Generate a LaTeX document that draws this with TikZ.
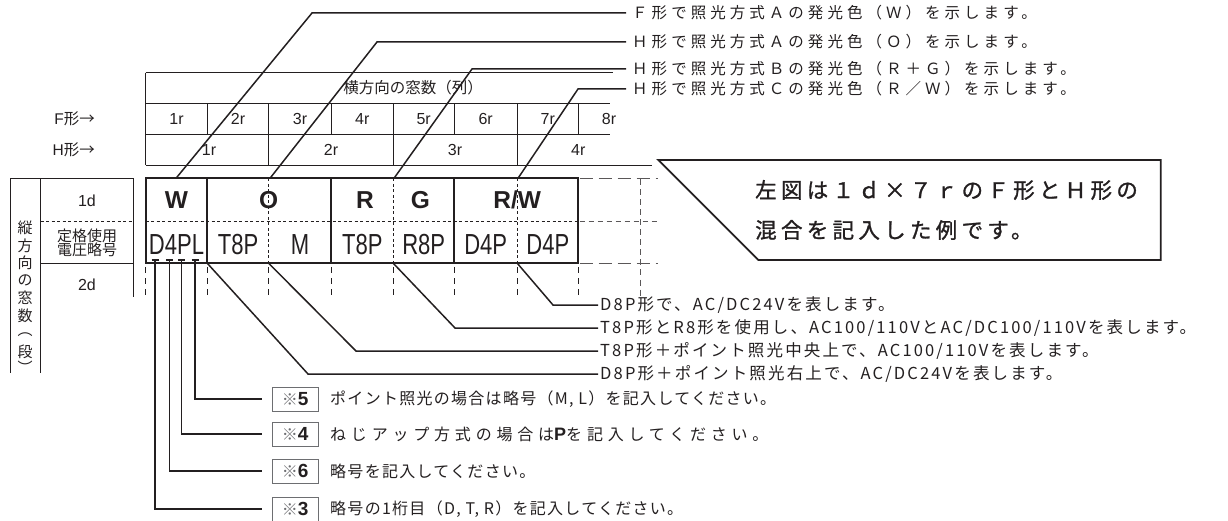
\documentclass[tikz,border=0pt]{standalone}
\usepackage{fontspec}
\setmainfont{Noto Sans CJK JP}
\newfontfamily\hv{Liberation Sans}
\newfontfamily\hvc[FakeStretch=0.76]{Liberation Sans}
\newfontfamily\jpsp[LetterSpace=26]{Noto Sans CJK JP}
\newfontfamily\jpbt[LetterSpace=13]{Noto Sans CJK JP}
\newfontfamily\jpnt[LetterSpace=8]{Noto Sans CJK JP}
\newfontfamily\jpwide[LetterSpace=30]{Noto Sans CJK JP}
\newfontfamily\jpcall[LetterSpace=20,FakeBold=1.2]{Noto Sans CJK JP}
\newcommand\fsz[1]{\fontsize{#1}{#1}\selectfont}
\usetikzlibrary{calc}
\definecolor{ink}{HTML}{231F20}
\definecolor{boxgray}{HTML}{6D6E71}
\begin{document}
\begin{tikzpicture}[x=1pt,y=-1pt,
  ln/.style={draw=ink, line width=0.8pt},
  lnk/.style={draw=ink, line width=1.8pt},
  lead/.style={draw=ink, line width=1.5pt},
  fdash/.style={draw=ink, line width=0.9pt, dash pattern=on 3pt off 2.5pt},
  ldash/.style={draw=ink!75, line width=1pt, dash pattern=on 13pt off 6pt},
  mdash/.style={draw=ink, line width=0.9pt, dash pattern=on 6pt off 5pt},
  txt/.style={inner sep=0pt, text=ink},
  toplbl/.style={txt, anchor=west, font=\jpsp\fsz{15.5}},
  botlbl/.style={txt, anchor=west, font=\jpbt\fsz{16.5}},
  notelbl/.style={txt, anchor=west, font=\jpnt\fsz{16}},
  hdrnum/.style={txt, font=\hv\fsz{16}},
  big/.style={txt, font=\hv\bfseries\fsz{24.5}},
  code/.style={txt, font=\hvc\fsz{29}},
  notebox/.style={draw=boxgray, line width=0.9pt, minimum width=46pt, minimum height=24pt, inner sep=0pt, anchor=west, text=ink},
  vchar/.style={txt, font=\fsz{15}}
]
\useasboundingbox (0,0) rectangle (1228,521);

% ---------- header table ----------
\draw[ln] (145.7,72.7) -- (613,72.7);
\draw[ln] (145.7,103.3) -- (610,103.3);
\draw[ln] (145.7,134) -- (610,134);
\draw[ln] (145.7,165.3) -- (652,165.3);
\draw[ln] (145.7,72.7) -- (145.7,165.3);
\foreach \x in {207.3,268.7,331.3,393.3,454,517.3,578.3}
  \draw[ln] (\x,103.3) -- (\x,134);
\foreach \x in {268.7,393.3,517.3}
  \draw[ln] (\x,134) -- (\x,165.3);
\node[txt, font=\fsz{15.5}] (hdr) at (413,88) {横方向の窓数（列）};
\foreach \t/\x [count=\i] in {1r/176.5,2r/238,3r/300,4r/362.3,5r/423.7,6r/485.7,7r/547.8,8r/609}
  \node[hdrnum] (f\i) at (\x,118.7) {\t};
\foreach \t/\x [count=\i] in {1r/209,2r/331,3r/455,4r/578.3}
  \node[hdrnum] (h\i) at (\x,149.7) {\t};
\node[txt, anchor=east, font=\fsz{15.5}] (flab) at (95,118.7) {{\hv F}形→};
\node[txt, anchor=east, font=\fsz{15.5}] (hlab) at (95,149.7) {{\hv H}形→};

% ---------- left table ----------
\draw[ln] (10,178.3) -- (133.3,178.3);
\draw[ln] (10,178.3) -- (10,372.7);
\draw[ln] (40.7,178.3) -- (40.7,372.7);
\draw[ln] (133.3,178.3) -- (133.3,296.7);
\draw[ln, dash pattern=on 3pt off 2.5pt] (40.7,221) -- (133.3,221);
\draw[ln] (40.7,263.3) -- (133.3,263.3);
\node[hdrnum] (d1) at (87,200.5) {1d};
\node[txt, font=\fsz{15}, align=center] (volt) at (87,243) {定格使用\\[-1.5pt]電圧略号};
\node[hdrnum] (d2) at (87,284.5) {2d};
\foreach \c/\y [count=\i] in {縦/228,方/245.5,向/263,の/280.5,窓/298,数/315.5,︵/335,段/351.5,︶/367}
  \node[vchar] (v\i) at (25,\y) {\c};

% ---------- main table ----------
\draw[fdash] (145.7,221) -- (578.3,221);
\foreach \x in {268.7,393.3,517.3}
  \draw[fdash] (\x,178.3) -- (\x,263.3);
\draw[lnk] (145.7,178.3) rectangle (578.3,263.3);
\foreach \x in {207.3,331.3,454}
  \draw[lnk] (\x,178.3) -- (\x,263.3);
\draw[ldash] (579.5,178.3) -- (658,178.3);
\draw[ldash] (579.5,263.3) -- (658,263.3);
\draw[draw=ink!75, line width=0.9pt, dash pattern=on 5pt off 4pt] (579.5,221) -- (658,221);
\draw[draw=ink!75, line width=0.9pt, dash pattern=on 6pt off 4pt] (640.7,179.5) -- (640.7,296.7);
\foreach \x in {145.7,207.3,268.7,331.3,393.3,454,517.3,578.3}
  \draw[mdash] (\x,267) -- (\x,296.7);

\node[big] (cW) at (176.5,199.6) {W};
\node[big] (cO) at (268.7,199.6) {O};
\node[big] (cR) at (365,199.6) {R};
\node[big] (cG) at (420.5,199.6) {G};
\node[big] (cRW) at (517.3,199.6) {R/W};
\node[code] (k1) at (176.5,244.5) {D4PL};
\node[code] (k2) at (238,244.5) {T8P};
\node[code] (k3) at (300,244.5) {M};
\node[code] (k4) at (362.3,244.5) {T8P};
\node[code] (k5) at (423.7,244.5) {R8P};
\node[code] (k6) at (485.7,244.5) {D4P};
\node[code] (k7) at (547.8,244.5) {D4P};

% ---------- callout ----------
\draw[lnk] (658.3,160) -- (1160.7,160) -- (1160.7,260) -- (758.3,260) -- cycle;
\node[txt, anchor=west, font=\jpcall\fsz{21.5}] (call1) at (755,190) {左図は１ｄ×７ｒのＦ形とＨ形の};
\node[txt, anchor=west, font=\jpcall\fsz{21.5}] (call2) at (755,230) {混合を記入した例です。};

% ---------- top annotations ----------
\node[toplbl] (t1) at (632,13) {Ｆ形で照光方式Ａの発光色（Ｗ）を示します。};
\node[toplbl] (t2) at (632,42) {Ｈ形で照光方式Ａの発光色（Ｏ）を示します。};
\node[toplbl] (t3) at (632,69) {Ｈ形で照光方式Ｂの発光色（Ｒ＋Ｇ）を示します。};
\node[toplbl] (t4) at (632,89) {Ｈ形で照光方式Ｃの発光色（Ｒ／Ｗ）を示します。};
\coordinate (sW) at (176,178.3);  \coordinate (kW) at (312,13);
\coordinate (sO) at (270,178.3);  \coordinate (kO) at (377,42);
\coordinate (sRG) at (394,178.3); \coordinate (kRG) at (472,69);
\coordinate (sRW) at (518,178.3); \coordinate (kRW) at (578,89);
\draw[lead] (sW) -- (kW) -- ([xshift=-6pt]t1.west);
\draw[lead] (sO) -- (kO) -- ([xshift=-6pt]t2.west);
\draw[lead] (sRG) -- (kRG) -- ([xshift=-6pt]t3.west);
\draw[lead] (sRW) -- (kRW) -- ([xshift=-6pt]t4.west);

% ---------- bottom-right annotations ----------
\node[botlbl] (b1) at (600,305) {D8P形で、AC/DC24Vを表します。};
\node[botlbl] (b2) at (600,328) {T8P形とR8形を使用し、AC100/110VとAC/DC100/110Vを表します。};
\node[botlbl] (b3) at (600,351) {T8P形＋ポイント照光中央上で、AC100/110Vを表します。};
\node[botlbl] (b4) at (600,374) {D8P形＋ポイント照光右上で、AC/DC24Vを表します。};
\coordinate (eD) at (517.3,263.3); \coordinate (jD) at (553,305);
\coordinate (eR) at (393.3,263.3); \coordinate (jR) at (455,328);
\coordinate (eM) at (268.7,263.3); \coordinate (jM) at (356,351);
\coordinate (eL) at (207.3,263.3); \coordinate (jL) at (308,374);
\draw[lead] (eD) -- (jD) -- ([xshift=-2pt]b1.west);
\draw[lead] (eR) -- (jR) -- ([xshift=-2pt]b2.west);
\draw[lead] (eM) -- (jM) -- ([xshift=-2pt]b3.west);
\draw[lead] (eL) -- (jL) -- ([xshift=-2pt]b4.west);

% ---------- bottom-left notes ----------
\node[notebox] (n5) at (271.7,399) {{\color{boxgray}\fsz{16}※}{\hv\bfseries\fsz{19}5}};
\node[notebox] (n4) at (271.7,434) {{\color{boxgray}\fsz{16}※}{\hv\bfseries\fsz{19}4}};
\node[notebox] (n6) at (271.7,471) {{\color{boxgray}\fsz{16}※}{\hv\bfseries\fsz{19}6}};
\node[notebox] (n3) at (271.7,509) {{\color{boxgray}\fsz{16}※}{\hv\bfseries\fsz{19}3}};
\node[notelbl] (m5) at (330,399) {ポイント照光の場合は略号（M, L）を記入してください。};
\node[txt, anchor=west, font=\jpwide\fsz{16}] (m4) at (330,434) {ねじアップ方式の場合は{\hv\bfseries\fsz{18}P}を記入してください。};
\node[notelbl] (m6) at (330,471) {略号を記入してください。};
\node[notelbl] (m3) at (330,509) {略号の1桁目（D, T, R）を記入してください。};
\coordinate (uD) at (155,260);
\coordinate (u4) at (169.3,260);
\coordinate (uP) at (181.7,260);
\coordinate (uL) at (195,260);
\foreach \u in {uD,u4,uP,uL}
  \draw[ink, line width=1.5pt] ([xshift=-3.5pt]\u) -- ([xshift=3.5pt]\u);
\draw[lead] (uL) |- ([xshift=-10pt]n5.west);
\draw[lead] (uP) |- ([xshift=-10pt]n4.west);
\draw[lead] (u4) |- ([xshift=-10pt]n6.west);
\draw[lead] (uD) |- ([xshift=-10pt]n3.west);
\end{tikzpicture}
\end{document}
